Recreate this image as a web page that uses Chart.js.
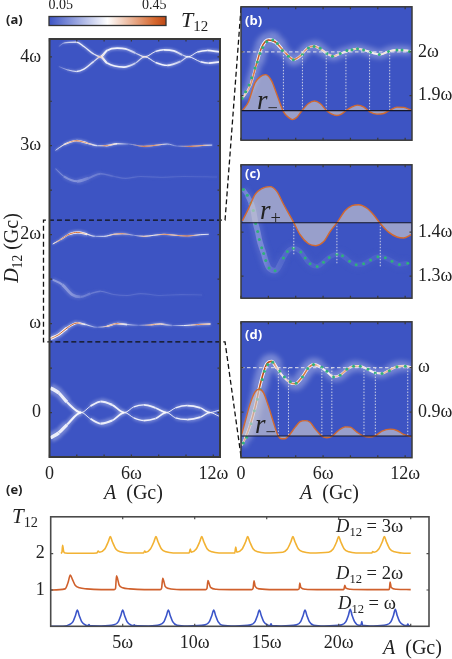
<!DOCTYPE html>
<html><head><meta charset="utf-8">
<style>
html,body{margin:0;padding:0;background:#fff;overflow:hidden}
#page{position:relative;width:452px;height:659px;overflow:hidden;filter:blur(.3px)}
canvas{position:absolute}
.t{position:absolute;font-family:"Liberation Serif",serif;color:#222;white-space:nowrap;line-height:1;z-index:5}
.t i{font-style:italic}
.t sub{font-size:68%;vertical-align:baseline;position:relative;top:.28em;line-height:0}
.p{font-family:"Open Sans",sans-serif;font-weight:700;font-size:13px}
.w{color:#fff}
</style>
<script src="https://cdn.jsdelivr.net/npm/chart.js@4/dist/chart.umd.min.js"></script>
</head><body><div id="page"></div>
<script>
// ---------- colour scale ----------
const cmapT=[0,0.25,0.45,0.5];
const cmapC=[[61,84,196],[255,255,255],[214,105,48],[190,72,22]];
const BG='#3d54c3';

// ---------- panel (a): ridges of T12 ----------
const a4uA=[.68,1.05,1.98,2.52,3.25,3.74,4.22,4.96,5.57,6.3,6.98,7.77,8.38,9.11,9.72,10.16,10.82,11.55,12.45];
const a4uD=[4.116,4.154,4.165,4.116,4.03,4.0,4.071,4.097,4.09,4.041,4.0,4.06,4.079,4.067,4.022,4.0,4.052,4.071,4.056];
const a4uT=[.05,.16,.24,.24,.22,.36,.24,.25,.24,.18,.3,.24,.25,.24,.18,.26,.24,.25,.24];
const a4uW=[1,1.5,2,2,1.5,3,2.5,2.5,2.5,1.5,1,2,2.5,2.5,1.5,1,2,2.5,2.5];
const a4lA=[.68,1.29,1.98,2.52,3.25,3.74,4.22,5.45,6.3,6.98,7.77,8.62,9.6,10.16,11.06,11.67,12.45];
const a4lD=[3.891,3.854,3.835,3.861,3.948,4,3.929,3.884,3.929,4,3.936,3.903,3.948,4,3.944,3.929,3.944];
const a4lT=[.05,.16,.24,.24,.22,.36,.24,.25,.18,.3,.24,.25,.18,.26,.24,.25,.24];
const a4lW=[1,1.5,2,2,1.5,3,2.5,2.5,1.5,1,2,2.5,1.5,1,2,2.5,2.5];
const a3A=[.44,1.05,1.98,2.76,3.49,4.1,4.96,5.81,6.91,7.89,8.62,9.35,10.33,11.31,11.92];
const a3D=[2.948,3.011,3.056,3.03,3.0,3.0,3.022,3.019,2.993,3.007,3.019,2.996,2.993,3.004,3.007];
const a3T=[.2,.3,.45,.36,.2,.42,.28,.08,.45,.38,.2,.08,.45,.36,.22];
const a3W=[1.2,2,2.5,1.8,1.2,2,1.5,.6,1.2,1.2,1,.6,1,1,.8];
const a27A=[.44,1.05,2.03,2.88,3.74,4.71,5.57,6.67,8.13,9.84,12.28];
const a27D=[2.742,2.655,2.6,2.637,2.685,2.655,2.633,2.655,2.644,2.655,2.648];
const a27T=[.07,.09,.1,.07,.06,.04,.04,.035,.03,.03,.025];
const a27W=[1.5,3,4,3,2,1.5,1.5,1.5,1.5,1.5,1.5];
const a2A=[.24,.81,1.42,2.08,2.76,3.37,3.98,4.71,5.32,6.18,6.91,7.64,8.38,9.23,10.09,11.06,11.67];
const a2D=[1.895,1.944,2.004,2.026,2.004,1.981,1.981,2.004,2.011,1.993,1.981,1.993,2.004,1.993,1.985,2.0,2.004];
const a2T=[.28,.4,.44,.45,.3,.15,.24,.34,.4,.1,.34,.28,.4,.34,.48,.28,.22];
const a2W=[1.2,2,3,3,1.5,1,1.2,1.5,1.5,.7,1,1,1.2,1,1.2,1,.8];
const a14A=[.24,.93,1.66,2.27,3.0,3.74,4.71,5.69,6.67,8.13,9.6,11.18];
const a14D=[1.494,1.438,1.326,1.3,1.337,1.363,1.326,1.315,1.337,1.315,1.326,1.322];
const a14T=[.11,.11,.1,.07,.06,.06,.04,.04,.035,.03,.03,.025];
const a14W=[3,4,4,3,2,1.5,1.5,1.5,1.5,1.5,1.5,1.5];
const a1A=[.07,.68,1.29,2.03,2.64,3.49,4.22,4.96,5.69,6.54,7.4,8.13,8.99,9.84,10.82,11.79];
const a1D=[.831,.876,.951,1.007,.989,.959,.97,1.0,.989,.981,.985,.996,.978,.978,.989,.996];
const a1T=[.38,.46,.47,.47,.24,.08,.33,.42,.22,.07,.38,.33,.08,.24,.4,.33];
const a1W=[4,4,3,2.5,1.5,1,2,2.5,1.2,.8,1.8,2,.8,1.4,2,1.5];
const a0A=[.07,.68,1.29,2.32,3.0,3.74,4.59,5.49,6.18,6.91,7.77,8.57,9.23,10.09,11.06,11.75,12.41];
const a0uD=[.277,.221,.116,0,.071,.124,.086,0,.064,.086,.052,0,.052,.079,.052,0,.026];
const a0lD=[-.285,-.228,-.135,0,-.071,-.124,-.09,0,-.06,-.09,-.067,0,-.06,-.079,-.052,0,-.041];
const a0T=[.24,.24,.24,.27,.24,.24,.24,.27,.24,.24,.24,.27,.24,.24,.24,.27,.24];
const a0W=[5,4.5,3,.8,2.5,3.2,2.5,.8,2,2.5,2.2,.8,2,2.5,2,.8,1.5];
const zoomBoxX=[14.03,12.86,-.44,-.44,12.86,14.03];
const zoomBoxY=[4.55,2.163,2.163,.794,.794,-.494];

// ---------- panel (b) ----------
const bRidgeA=[.1,.66,1.15,1.51,2.0,2.49,2.98,3.59,3.83,4.32,4.81,5.3,5.79,6.28,6.76,7.25,7.74,8.47,9.08,9.69,10.18,10.79,11.4,12.14,12.43];
const bRidgeD=[1.894,1.922,1.974,2.010,2.027,2.023,2.007,1.987,1.982,1.990,2.007,2.013,2.007,1.996,1.990,1.996,2.001,2.007,2.003,1.997,1.994,2.001,2.004,2.003,2.001];
const bRidgeT=[.3,.38,.46,.48,.5,.48,.42,.42,.44,.4,.38,.4,.34,.3,.36,.3,.3,.34,.3,.28,.3,.3,.3,.3,.3];
const bRidgeW=[3,3.5,4.5,5,6,5,3.5,4,4,3.5,3.5,4,3.5,3,3,3,3,3,3,3,3,3,3,3,3];
const bDotA=[.1,.34,.59,.78,1.03,1.2,1.39,1.59,1.88,2.32,2.66,3.03,3.47,3.83,4.49,4.93,5.35,5.79,6.28,6.69,7.25,7.74,8.11,8.52,8.96,9.45,10.11,10.79,11.4,11.77,12.31];
const bDotD=[1.894,1.909,1.924,1.941,1.963,1.977,1.996,2.01,2.023,2.027,2.019,2.003,1.99,1.982,1.994,2.009,2.012,2.008,1.996,1.99,1.996,2.003,2.005,2.007,2.004,1.999,1.994,2.001,2.004,2.004,2.001];
const bRA=[.1,.54,1.03,1.39,1.81,2.25,2.61,3.1,3.47,3.76,4.08,4.44,4.93,5.37,5.79,6.28,6.64,7.01,7.37,7.67,8.11,8.52,8.96,9.45,9.94,10.43,10.92,11.4,11.89,12.43];
const bRD=[1.8656,1.8855,1.9295,1.9427,1.9479,1.9332,1.9038,1.8634,1.8502,1.8451,1.8502,1.8649,1.8818,1.8877,1.8818,1.8649,1.8576,1.8546,1.8583,1.8656,1.8744,1.8781,1.8744,1.862,1.8576,1.859,1.867,1.8737,1.873,1.867];
const bBase=1.8656, bLine=2.0;
const bVert=[3.1,4.49,6.23,7.67,9.4,10.87];

// ---------- panel (c) ----------
const cDotA=[.17,.46,.73,.9,1.07,1.22,1.34,1.51,1.66,1.81,2.05,2.49,3.1,3.39,3.83,4.37,4.69,5.05,5.57,6.03,6.45,7.01,7.42,7.94,8.42,8.96,9.47,10.01,10.55,11.04,11.58,12.19];
const cDotD=[1.4969,1.4837,1.4661,1.4492,1.4198,1.4015,1.3831,1.3648,1.3515,1.3354,1.3185,1.3126,1.3413,1.3559,1.3633,1.3552,1.3413,1.328,1.3222,1.3317,1.3427,1.3501,1.3464,1.3339,1.3258,1.328,1.3369,1.3442,1.342,1.3339,1.3266,1.3295];
const cRidgeT=[.07,.08,.085,.085,.085,.085,.085,.08,.08,.07,.055,.045,.03,.03,.035,.03,.03,.025,.025,.025,.025,.025,.025,.02,.02,.02,.02,.02,.02,.02,.02,.02];
const cRidgeW=[5,6,7,7,7,7,7,7,7,7,7,7,6,6,6,6,6,6,6,6,6,6,6,6,6,6,6,6,6,6,6,6];
const cRA=[.1,.54,1.03,1.51,2.12,2.61,3.1,3.83,4.32,4.93,5.47,6.03,6.52,7.06,7.62,8.11,8.6,9.21,9.69,10.18,10.79,11.4,11.89,12.43];
const cRD=[1.4257,1.4529,1.4859,1.4991,1.5035,1.4932,1.4639,1.4235,1.3941,1.3736,1.3692,1.378,1.4015,1.4235,1.4492,1.4602,1.4624,1.4543,1.4396,1.4198,1.4,1.389,1.3868,1.3941];
const cBase=1.4213;
const cVertA=[3.86,7.01,10.18];
const cVertD=[1.3464,1.328,1.3222];

// ---------- panel (d) ----------
const dRidgeA=[.05,.29,.66,1.03,1.32,1.64,1.88,2.25,2.61,3.1,3.59,3.96,4.44,4.93,5.3,5.79,6.28,6.76,7.25,7.74,8.23,8.72,9.33,9.82,10.31,10.79,11.4,12.01,12.43];
const dRidgeD=[.8258,.8406,.8701,.9107,.9513,.9882,1.0081,1.014,.9993,.9793,.9661,.9638,.9771,.9993,1.0066,1.0015,.9904,.9793,.983,.9956,1.003,1.003,.9948,.9882,.9867,.9934,1.0022,1.0037,1.0007];
const dRidgeT=[.3,.38,.44,.46,.48,.5,.5,.48,.33,.28,.38,.44,.44,.42,.42,.3,.26,.32,.36,.38,.38,.32,.28,.28,.32,.36,.36,.32,.3];
const dRidgeW=[3,4,4.5,4.5,5,5,5,5,3,3,4,4.5,4.5,4.5,4.5,3,3,3.5,3.5,3.5,3.5,3,3,3,3,3.5,3.5,3,3];
const dDotA=[.17,.42,.73,.98,1.2,1.39,1.56,1.71,1.95,2.32,2.81,3.17,3.61,4.03,4.49,4.88,5.3,5.91,6.28,6.76,7.25,7.74,8.23,8.72,9.28,9.82,10.31,10.85,11.4,12.01];
const dDotD=[.831,.844,.874,.903,.929,.951,.973,.992,1.007,1.012,.992,.979,.968,.965,.979,.998,1.007,1.001,.992,.979,.983,.996,1.003,1.003,.996,.988,.987,.993,1.002,1.003];
const dRA=[.05,.29,.66,1.03,1.32,1.64,2,2.37,2.73,2.98,3.22,3.47,3.96,4.32,4.69,5.05,5.42,5.91,6.28,6.64,7.13,7.62,7.99,8.47,8.96,9.38,9.82,10.31,10.92,11.4,11.89,12.43];
const dRD=[.8502,.8775,.9181,.9454,.9513,.9439,.9144,.8775,.8458,.8406,.8406,.8465,.8664,.879,.8812,.8775,.8627,.8465,.8428,.8458,.859,.8672,.8664,.8554,.8465,.8443,.8472,.8576,.862,.859,.8502,.845];
const dBase=.8465, dLine=1.0;
const dVert=[2.73,3.47,5.91,6.64,8.99,9.82,12.19];

// ---------- panel (e) ----------
const eBlueA=[0,1,1.25,1.55,1.72,1.85,1.98,2.15,2.45,2.6,2.66,2.72,3.5,4.4,4.7,4.87,5,5.13,5.3,5.6,5.75,5.8,5.85,6.8,7.57,7.87,8.04,8.17,8.3,8.47,8.77,9.5,10.72,11.02,11.19,11.32,11.45,11.62,11.92,12.8,13.89,14.19,14.36,14.49,14.62,14.79,15.09,15.24,15.3,15.36,16,17.06,17.36,17.53,17.66,17.79,17.96,18.26,19,20.2,20.5,20.67,20.8,20.93,21.1,21.4,21.55,21.6,21.66,22.4,23.33,23.63,23.8,23.93,24.06,24.23,24.53,24.74,24.8,24.86,25];
const eBlueT=[0,.01,.04,.13,.3,.45,.3,.13,.03,.02,.05,.02,.01,.04,.13,.3,.45,.3,.13,.03,.02,.04,.02,.01,.04,.13,.3,.45,.3,.13,.03,.01,.04,.13,.3,.45,.3,.13,.03,.01,.04,.13,.3,.45,.3,.13,.03,.02,.07,.02,.01,.04,.13,.3,.45,.3,.13,.03,.01,.04,.13,.3,.47,.3,.13,.03,.03,.13,.03,.01,.04,.13,.3,.47,.3,.13,.03,.02,.06,.02,.01];
const eRedA=[0,1,1.2,1.36,1.5,1.7,2,2.5,3.5,4.4,4.5,4.57,4.65,4.75,5,5.5,6.5,7.6,7.7,7.78,7.85,7.95,8.2,9,10.75,10.85,10.92,11,11.1,11.5,12.5,13.95,14.05,14.12,14.2,14.5,15.5,17.15,17.25,17.3,17.37,17.7,18.5,20.3,20.37,20.42,20.5,20.8,22,23.45,23.52,23.57,23.65,24,25];
const eRedT=[1,1.03,1.2,1.41,1.3,1.13,1.06,1.03,1.01,1.01,1.04,1.39,1.3,1.14,1.06,1.03,1.01,1.01,1.05,1.32,1.25,1.1,1.04,1.01,1.01,1.04,1.26,1.18,1.07,1.02,1.01,1.01,1.04,1.25,1.1,1.03,1.01,1.01,1.03,1.19,1.07,1.02,1.01,1.01,1.03,1.13,1.05,1.02,1.01,1.01,1.03,1.22,1.07,1.02,1.01];
const eYelA=[.7,.78,.83,.9,1,2,3.2,3.3,3.4,3.74,4,4.14,4.28,4.54,4.84,5.34,6.45,6.53,6.61,6.91,7.17,7.31,7.45,7.71,8.01,8.51,9.62,9.69,9.76,10.09,10.35,10.49,10.63,10.89,11.19,11.69,12.78,12.85,12.92,13.28,13.54,13.68,13.82,14.08,14.38,14.88,16.12,16.42,16.68,16.82,16.96,17.22,17.52,18.02,19.3,19.6,19.86,20,20.14,20.4,20.7,21.2,22.3,22.36,22.47,22.77,23.03,23.17,23.31,23.57,23.87,24.37,25];
const eYelT=[2.01,2.04,2.23,2.06,2.02,2.01,2.02,2.07,2.04,2.12,2.33,2.47,2.33,2.12,2.05,2.02,2.02,2.07,2.04,2.12,2.33,2.47,2.33,2.12,2.05,2.02,2.02,2.13,2.04,2.12,2.33,2.47,2.33,2.12,2.05,2.02,2.02,2.18,2.04,2.12,2.33,2.47,2.33,2.12,2.05,2.02,2.04,2.12,2.33,2.47,2.33,2.12,2.05,2.02,2.04,2.12,2.33,2.47,2.33,2.12,2.05,2.02,2.02,2.06,2.04,2.12,2.33,2.47,2.33,2.12,2.05,2.02,2.01];

// ---------- ticks ----------
const aXT=[0,2,4,6,8,10,12], aXL=['0','','','6ω','','','12ω'];
const aYT=[0,.5,1,1.5,2,2.5,3,3.5,4], aYL=['0','','ω','','2ω','','3ω','','4ω'];
const bYT=[1.9,2], bYL=['1.9ω','2ω'];
const cYT=[1.3,1.4], cYL=['1.3ω','1.4ω'];
const dYT=[.9,1], dYL=['0.9ω','ω'];
const eXT=[5,10,15,20,25], eXL=['5ω','10ω','15ω','20ω',''];
const eYT=[1,2], eYL=['1','2'];
const cbT=[.05,.25,.45], cbL=['0.05','','0.45'];

// ---------- helpers ----------
const SERIF='"Liberation Serif",serif';
const page=document.getElementById('page');
function cm(t){
  t=Math.max(0,Math.min(.5,t));
  let i=0; while(i<cmapT.length-2&&t>cmapT[i+1])i++;
  const f=(t-cmapT[i])/(cmapT[i+1]-cmapT[i]);
  return cmapC[i].map((c,k)=>Math.round(c+(cmapC[i+1][k]-c)*f));
}
const rgba=(c,a)=>`rgba(${c[0]},${c[1]},${c[2]},${a})`;
const pts=(X,Y)=>X.map((x,i)=>({x,y:Y[i]}));
function line(X,Y,o){return Object.assign({data:pts(X,Y),pointRadius:0,borderWidth:1,fill:false,tension:0},o)}
function grad(A,fn){return c=>{
  const ch=c.chart,s=ch.scales&&ch.scales.x; if(!s||!ch.chartArea)return 'rgba(0,0,0,0)';
  const a0=A[0],a1=A[A.length-1];
  const g=ch.ctx.createLinearGradient(s.getPixelForValue(a0),0,s.getPixelForValue(a1),0);
  A.forEach((a,i)=>g.addColorStop((a-a0)/(a1-a0),fn(i)));return g;}}
function ridge(A,D,T,W,o={}){
  const k=o.blur||1.2,glow=o.glow||1.6,inner=o.inner||.7,core=o.core||1;
  const mono={cubicInterpolationMode:'monotone'};
  return [
    line(A,D,Object.assign({blur:k,borderColor:grad(A,i=>rgba(cm(Math.min(T[i],.25)),.3)),segment:{borderWidth:c=>W[c.p0DataIndex]*glow}},mono)),
    line(A,D,Object.assign({blur:.6,borderColor:grad(A,i=>rgba(cm(Math.min(T[i],.25)),.92)),segment:{borderWidth:c=>Math.max(.9,W[c.p0DataIndex]*inner)}},mono)),
    line(A,D,Object.assign({borderWidth:core,borderColor:grad(A,i=>rgba(cm(T[i]),Math.max(0,Math.min(1,(T[i]-.25)/.08))))},mono))
  ];
}
function dots(A,D,color){return line(A,D,{showLine:false,pointRadius:1.5,pointBackgroundColor:color,pointBorderWidth:0})}
function rCurve(A,D,base){return line(A,D,{cubicInterpolationMode:'monotone',borderColor:'#d2692f',borderWidth:1.4,fill:{value:base},backgroundColor:'rgba(208,205,208,0.62)'})}
function hline(v,o){return line([0,12.5],[v,v],o)}
function vlines(X,top,bot){
  const x=[],y=[];
  X.forEach((a,i)=>{x.push(a,a,a);y.push(top,Array.isArray(bot)?bot[i]:bot,null)});
  return line(x,y,{borderColor:'rgba(228,228,235,.85)',borderWidth:1,borderDash:[1.5,1.5]});
}
function layerPlugin(xT,yT,col,w,len,bg){return {
  id:'layer',
  beforeDatasetsDraw(ch){ if(!bg)return; const a=ch.chartArea,c=ch.ctx; c.save();c.fillStyle=bg;c.fillRect(a.left,a.top,a.width,a.height);c.restore(); },
  beforeDatasetDraw(ch,args){ const b=ch.data.datasets[args.index].blur; if(b){ch.ctx.save();ch.ctx.filter=`blur(${b}px)`;} },
  afterDatasetDraw(ch,args){ if(ch.data.datasets[args.index].blur)ch.ctx.restore(); },
  afterDraw(ch){
    const a=ch.chartArea,c=ch.ctx; c.save();
    c.strokeStyle=col;c.lineWidth=1.2;c.beginPath();
    xT.forEach(v=>{const p=ch.scales.x.getPixelForValue(v);c.moveTo(p,a.bottom);c.lineTo(p,a.bottom-len);c.moveTo(p,a.top);c.lineTo(p,a.top+len)});
    yT.forEach(v=>{const p=ch.scales.y.getPixelForValue(v);c.moveTo(a.left,p);c.lineTo(a.left+len,p);c.moveTo(a.right,p);c.lineTo(a.right-len,p)});
    c.stroke();
    c.lineWidth=w;c.strokeRect(a.left,a.top,a.width,a.height);c.restore();
  }};
}
function axis(min,max,T,L,opt,pad){
  return Object.assign({type:'linear',min,max,border:{display:false},grid:{display:false,drawTicks:false},
    afterBuildTicks:s=>{s.ticks=T.map(v=>({value:v}))},
    ticks:{autoSkip:false,maxRotation:0,minRotation:0,color:'#222',font:{family:SERIF,size:18},padding:pad||6,callback:(v,i)=>L[i]}
  },opt||{});
}
function make(box,datasets,scales,padding,plugin,type){
  const cv=document.createElement('canvas');
  cv.width=box.w;cv.height=box.h;cv.style.left=box.x+'px';cv.style.top=box.y+'px';cv.style.width=box.w+'px';cv.style.height=box.h+'px';
  page.appendChild(cv);
  return new Chart(cv.getContext('2d'),{type:type||'line',data:{labels:box.labels,datasets:datasets.slice().reverse()},
    options:Object.assign({responsive:false,animation:false,devicePixelRatio:1,layout:{padding},
      plugins:{legend:{display:false},tooltip:{enabled:false},title:{display:false}},
      scales},box.opt||{}),plugins:[plugin]});
}

// ---------- (a) ----------
make({x:0,y:0,w:245,h:500},[
  ...ridge(a0A,a0uD,a0T,a0W,{blur:1.8,glow:2}),...ridge(a0A,a0lD,a0T,a0W,{blur:1.8,glow:2}),
  ...ridge(a1A,a1D,a1T,a1W),...ridge(a14A,a14D,a14T,a14W),
  ...ridge(a2A,a2D,a2T,a2W),...ridge(a27A,a27D,a27T,a27W),
  ...ridge(a3A,a3D,a3T,a3W),...ridge(a4uA,a4uD,a4uT,a4uW),...ridge(a4lA,a4lD,a4lT,a4lW),
  line(zoomBoxX,zoomBoxY,{borderColor:'#111',borderWidth:1.3,borderDash:[5,3],clip:false})
],{
  x:axis(0,12.49,aXT,aXL,{afterFit:s=>{s.height=43}}),
  y:axis(-.5,4.2,aYT,aYL,{afterFit:s=>{s.width=49.5}},8.5)
},{top:39,right:25,left:0,bottom:0},layerPlugin(aXT,aYT,'#3a3a3a',2,2.5,BG));

// ---------- (b) ----------
const sideY=(min,max,T,L)=>axis(min,max,T,L,{position:'right',afterFit:s=>{s.width=40}});
const sideX=(T,L)=>axis(0,12.5,T,L,{display:false});
const thick={blur:2.5,glow:3,inner:.68,core:1.6};
make({x:226,y:-10,w:226,h:167},[
  ...ridge(bRidgeA,bRidgeD,bRidgeT,bRidgeW,thick),
  hline(bLine,{borderColor:'rgba(225,225,235,.85)',borderWidth:1.1,borderDash:[3.5,2.5]}),
  dots(bDotA,bDotD,'#2fb07c'),
  vlines(bVert,bLine,bBase),
  rCurve(bRA,bRD,bBase),
  hline(bBase,{borderColor:'#15172b',borderWidth:1.1})
],{x:sideX(aXT,aXL),y:sideY(1.798,2.103,bYT,bYL)},{top:14.7,right:0,left:15,bottom:14},layerPlugin(aXT,bYT,'#3a3a3a',1.5,2.5,BG));

// ---------- (c) ----------
make({x:226,y:148,w:226,h:167},[
  ...ridge(cDotA,cDotD,cRidgeT,cRidgeW,{blur:2,glow:1.6,inner:.8}),
  dots(cDotA,cDotD,'#2fb07c'),
  vlines(cVertA,cBase,cVertD),
  rCurve(cRA,cRD,cBase),
  hline(cBase,{borderColor:'#15172b',borderWidth:1.1})
],{x:sideX(aXT,aXL),y:sideY(1.25,1.553,cYT,cYL)},{top:14.7,right:0,left:15,bottom:14.3},layerPlugin(aXT,cYT,'#3a3a3a',1.5,2.5,BG));

// ---------- (d) ----------
make({x:226,y:305,w:226,h:186},[
  ...ridge(dRidgeA,dRidgeD,dRidgeT,dRidgeW,thick),
  hline(dLine,{borderColor:'rgba(225,225,235,.85)',borderWidth:1.1,borderDash:[3.5,2.5]}),
  dots(dDotA,dDotD,'#2fb07c'),
  vlines(dVert,dLine,dBase),
  rCurve(dRA,dRD,dBase),
  hline(dBase,{borderColor:'#15172b',borderWidth:1.1})
],{x:axis(0,12.5,aXT,aXL,{afterFit:s=>{s.height=33.3}}),y:sideY(.798,1.1026,dYT,dYL)},{top:15,right:0,left:15,bottom:0},layerPlugin(aXT,dYT,'#3a3a3a',1.5,2.5,BG));

// ---------- (e) ----------
make({x:0,y:500,w:452,h:159},[
  line(eBlueA,eBlueT,{cubicInterpolationMode:'monotone',borderColor:'#3b55c9',borderWidth:1.6}),
  line(eRedA,eRedT,{cubicInterpolationMode:'monotone',borderColor:'#d0602c',borderWidth:1.6}),
  line(eYelA,eYelT,{cubicInterpolationMode:'monotone',borderColor:'#f2b233',borderWidth:1.6})
],{
  x:axis(0,26.27,eXT,eXL,{afterFit:s=>{s.height=32.7}}),
  y:axis(0,3.016,eYT,eYL,{afterFit:s=>{s.width=50.7}})
},{top:12,right:23,left:0,bottom:0},layerPlugin(eXT,eYT,'#4a4a4a',1.6,2.5,null));

// ---------- colour bar ----------
make({x:44,y:0,w:130,h:30,labels:['T12'],opt:{indexAxis:'y'}},[
  {data:[[0,.5]],barPercentage:1,categoryPercentage:1,backgroundColor:c=>{
    const a=c.chart.chartArea; if(!a)return BG;
    const g=c.chart.ctx.createLinearGradient(a.left,0,a.right,0);
    cmapT.forEach((t,i)=>g.addColorStop(t/.5,rgba(cmapC[i],1))); return g;}}
],{
  x:axis(0,.5,cbT,cbL,{position:'top',afterFit:s=>{s.height=16.5},ticks:{autoSkip:false,maxRotation:0,color:'#222',font:{family:SERIF,size:14},padding:3,callback:(v,i)=>cbL[i]}}),
  y:{type:'category',display:false}
},{top:0,right:8,left:5,bottom:4.5},layerPlugin([],[],'#333',1.3,2,null),'bar');

// ---------- text ----------
const labels=[
 ['<i>T</i><sub>12</sub>',181,9,22],
 ['<i>A</i>&nbsp; (Gc)',104,482,20],
 ['<i>A</i>&nbsp; (Gc)',300,482,20],
 ['<i>A</i>&nbsp; (Gc)',383,637,20],
 ['<i>T</i><sub>12</sub>',12,506,21],
 ['<i>D</i><sub>12</sub> = 3ω',336,517,18.5],
 ['<i>D</i><sub>12</sub> = 2ω',336,564,18.5],
 ['<i>D</i><sub>12</sub> = ω',338,594,18.5],
 ['<i>r</i><sub>−</sub>',257,87,27],
 ['<i>r</i><sub>+</sub>',260,197,27],
 ['<i>r</i><sub>−</sub>',255,411,27]
];
labels.forEach(l=>{const s=document.createElement('div');s.className='t';s.innerHTML=l[0];s.style.left=l[1]+'px';s.style.top=l[2]+'px';s.style.fontSize=l[3]+'px';page.appendChild(s)});
const ylab=document.createElement('div');ylab.className='t';ylab.innerHTML='<i>D</i><sub>12</sub>&nbsp;(Gc)';
ylab.style.cssText+='left:11px;top:248px;font-size:20px;transform:translate(-50%,-50%) rotate(-90deg)';page.appendChild(ylab);
[['(a)',6,13,''],['(e)',6,483,''],['(b)',245,14,' w'],['(c)',245,167,' w'],['(d)',245,328,' w']].forEach(p=>{
  const s=document.createElement('div');s.className='t p'+p[3];s.textContent=p[0];s.style.left=p[1]+'px';s.style.top=p[2]+'px';page.appendChild(s)});
</script></body></html>
